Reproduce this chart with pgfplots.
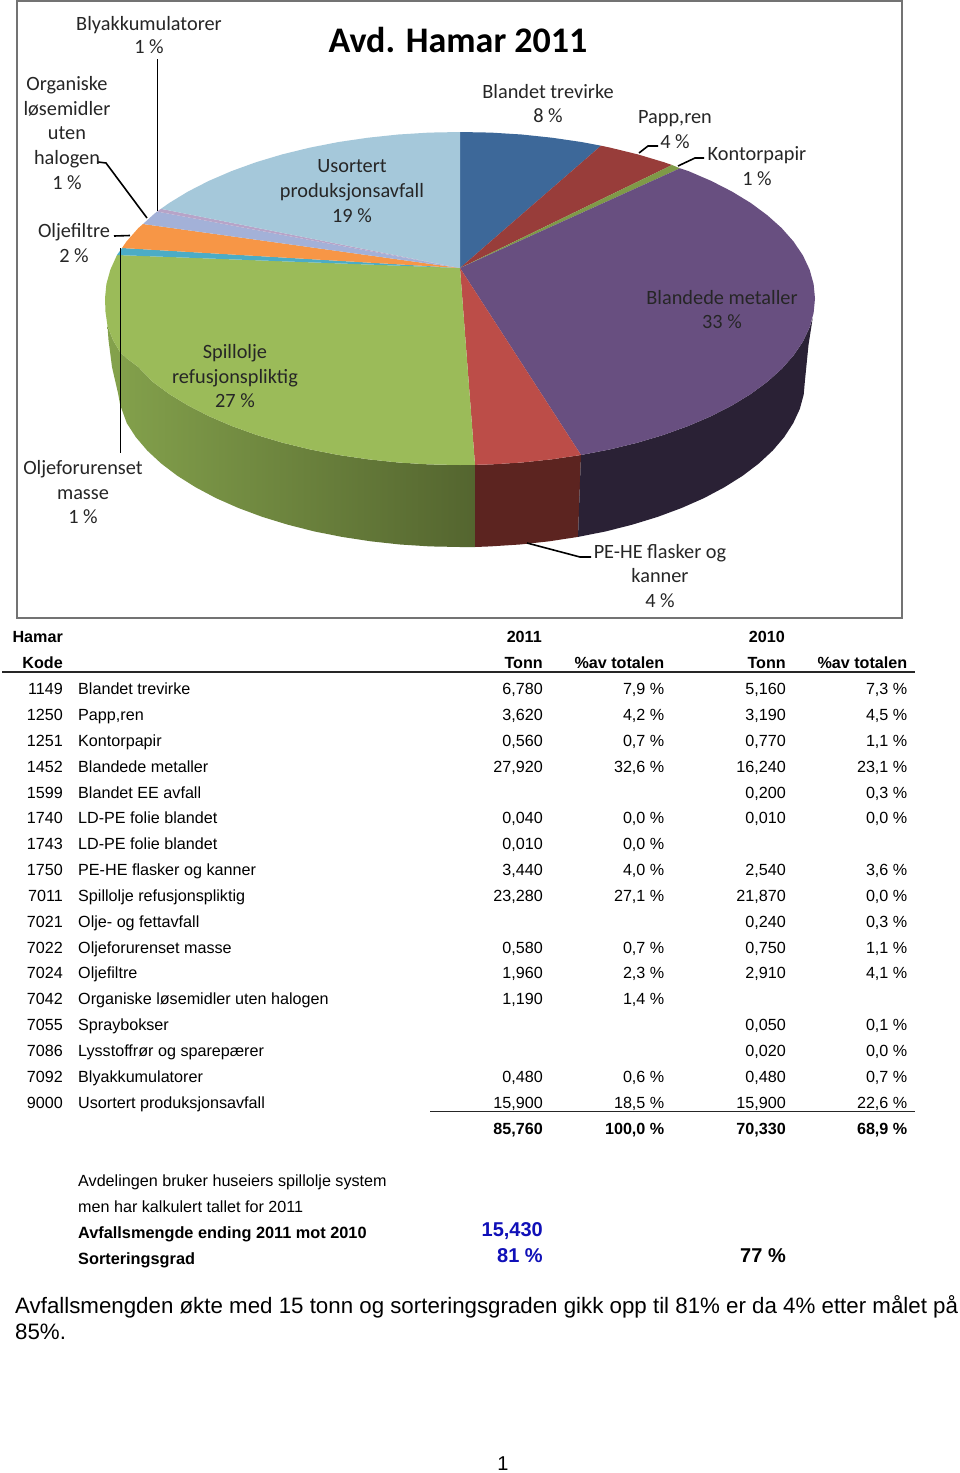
\documentclass[border=0pt]{standalone}
\usepackage{pgfplots}
\pgfplotsset{compat=1.18}
\usepackage{fontspec}
\setmainfont{Liberation Sans}
\newfontfamily\carlito{Carlito}
\definecolor{lab}{HTML}{262626}
\tikzset{
 L/.style={anchor=base,font=\carlito\fontsize{20.3}{20.5}\selectfont,text=lab,inner sep=0pt},
 TL/.style={anchor=base west,font=\fontsize{16.15}{16}\selectfont,inner sep=0pt},
 TR/.style={anchor=base east,font=\fontsize{16.15}{16}\selectfont,inner sep=0pt},
 BL/.style={anchor=base west,font=\bfseries\fontsize{16.3}{16}\selectfont,inner sep=0pt},
 BR/.style={anchor=base east,font=\bfseries\fontsize{16.15}{16}\selectfont,inner sep=0pt},
}
\newcommand\Row[7]{%
 \node[TR] at (axis cs:63,#1) {#2};
 \node[TL] at (axis cs:78,#1) {#3};
 \node[TR] at (axis cs:543,#1) {#4};
 \node[TR] at (axis cs:664.5,#1) {#5};
 \node[TR] at (axis cs:786,#1) {#6};
 \node[TR] at (axis cs:907.5,#1) {#7};
}
\begin{document}
\begin{tikzpicture}
\begin{axis}[
  scale only axis, width=960pt, height=1473pt,
  xmin=0, xmax=960, ymin=0, ymax=1473, y dir=reverse,
  hide axis, clip=false, enlargelimits=false,
]
\addplot[draw=none,fill=white] coordinates {(0,0)(960,0)(960,1473)(0,1473)} -- cycle;
% frame
\addplot[draw=gray!90!black,line width=2pt] coordinates {(16.5,1)(902,1)(902,618)(16.5,618)} -- cycle;
% walls
\addplot[draw=none,left color={rgb,255:red,132;green,162;blue,76},middle color={rgb,255:red,118;green,140;blue,69},right color={rgb,255:red,84;green,101;blue,47}] coordinates {
(475,464.8)(460,465)(429,464.4)(398.4,462.5)(368.1,459.3)(338.6,455)(310,449.4)(282.5,442.7)(256.4,434.9)(231.8,426)(209,416.2)(188.1,405.5)(169.2,394)(152.6,381.7)(138.3,367)(126.4,358)(120,352)(113,340)(107.5,326)
(108.5,340)(112,367)(118,393)(120.2,405)(126.8,423.2)(135.8,437.1)(147.3,450.6)(161.2,463.5)(177.4,475.8)(195.7,487.3)(216,498.1)(238.2,507.9)(262.1,516.8)(287.5,524.6)(314.2,531.4)(342,536.9)(370.7,541.3)(400.1,544.5)(429.9,546.4)(460,547)(475,547)} -- cycle;
\addplot[fill={rgb,255:red,92;green,36;blue,32},draw=none] coordinates {
(475,464.8)(491,464.4)(521.6,462.5)(551.9,459.3)(581,455)(578,536.9)(549.3,541.3)(519.9,544.5)(490.1,546.4)(475,547)} -- cycle;
\addplot[fill={rgb,255:red,42;green,33;blue,53},draw=none] coordinates {
(581,455)(610,449.4)(637.5,442.7)(663.6,434.9)(688.2,426)(711,416.2)(731.9,405.5)(750.8,394)(767.4,381.7)(781.7,368.9)(793.6,355.4)(802.9,341.6)(809.6,327.4)(812.7,318)
(808.5,345)(805,380)(803.7,394.6)(799.8,409)(793.2,423.2)(784.2,437.1)(772.7,450.6)(758.8,463.5)(742.6,475.8)(724.3,487.3)(704,498.1)(681.8,507.9)(657.9,516.8)(632.5,524.6)(605.8,531.4)(578,536.9)} -- cycle;
% top slices
\addplot[fill={rgb,255:red,61;green,104;blue,153},draw=none] coordinates {(460,268)(460,132)(491,132.6)(521.6,134.5)(551.9,137.7)(581.4,142)(601,145.7)} -- cycle;
\addplot[fill={rgb,255:red,152;green,61;blue,58},draw=none] coordinates {(460,268)(601,145.7)(610,147.6)(637.5,154.3)(663.6,162.1)(672,165)} -- cycle;
\addplot[fill={rgb,255:red,127;green,154;blue,72},draw=none] coordinates {(460,268)(672,165)(680,168.3)} -- cycle;
\addplot[fill={rgb,255:red,104;green,79;blue,128},draw=none] coordinates {(460,268)(680,168.3)(688.2,171)(711,180.8)(731.9,191.5)(750.8,203)(767.4,215.3)(781.7,228.1)(793.6,241.6)(802.9,255.4)(809.6,269.6)(813.6,284)(815,298.5)(813.6,313)(809.6,327.4)(802.9,341.6)(793.6,355.4)(781.7,368.9)(767.4,381.7)(750.8,394)(731.9,405.5)(711,416.2)(688.2,426)(663.6,434.9)(637.5,442.7)(610,449.4)(581,455)} -- cycle;
\addplot[fill={rgb,255:red,188;green,77;blue,72},draw=none] coordinates {(460,268)(581,455)(551.9,459.3)(521.6,462.5)(491,464.4)(475,464.8)} -- cycle;
\addplot[fill={rgb,255:red,155;green,187;blue,89},draw=none] coordinates {(460,268)(475,464.8)(460,465)(429,464.4)(398.4,462.5)(368.1,459.3)(338.6,455)(310,449.4)(282.5,442.7)(256.4,434.9)(231.8,426)(209,416.2)(188.1,405.5)(169.2,394)(152.6,381.7)(138.3,367)(126.4,358)(120,352)(113,340)(107.5,326)(105.5,312)(105,298.5)(106.4,284)(110.4,269.6)(117,255)} -- cycle;
\addplot[fill={rgb,255:red,75;green,172;blue,198},draw=none] coordinates {(460,268)(117,255)(122,248)} -- cycle;
\addplot[fill={rgb,255:red,247;green,150;blue,70},draw=none] coordinates {(460,268)(122,248)(126.4,241.6)(138.3,228.1)(143,224)} -- cycle;
\addplot[fill={rgb,255:red,163;green,177;blue,216},draw=none] coordinates {(460,268)(143,224)(152.6,215.3)(157,211.5)} -- cycle;
\addplot[fill={rgb,255:red,183;green,164;blue,200},draw=none] coordinates {(460,268)(157,211.5)(161,208.8)} -- cycle;
\addplot[fill={rgb,255:red,165;green,200;blue,218},draw=none] coordinates {(460,268)(161,208.8)(169.2,203)(188.1,191.5)(209,180.8)(231.8,171)(256.4,162.1)(282.5,154.3)(310,147.6)(338.6,142)(368.1,137.7)(398.4,134.5)(429,132.6)(460,132)} -- cycle;
% leaders
\addplot[black,line width=1.6pt] coordinates {(157.5,59)(157.5,211)};
\addplot[black,line width=1.6pt] coordinates {(98,162)(106,163)(147,218)};
\addplot[black,line width=1.6pt] coordinates {(114,236)(130,235.5)};
\addplot[black,line width=1.6pt] coordinates {(120.5,248)(120.5,453)};
\addplot[black,line width=1.6pt] coordinates {(639,153)(648,146)(658,146)};
\addplot[black,line width=1.6pt] coordinates {(678,166)(695,158)(704,158)};
\addplot[black,line width=1.6pt] coordinates {(527,543)(580,557)(591,557)};
% title and labels
\node[anchor=base,font=\carlito\bfseries\fontsize{36}{36}\selectfont,inner sep=0pt] at (axis cs:458,52) {Avd. Hamar 2011};
\node[L] at (axis cs:149,30) {Blyakkumulatorer};
\node[L] at (axis cs:149,53) {1 \%};
\node[L] at (axis cs:67,90) {Organiske};
\node[L] at (axis cs:67,115) {løsemidler};
\node[L] at (axis cs:67,139.5) {uten};
\node[L] at (axis cs:67,164) {halogen};
\node[L] at (axis cs:67,189) {1 \%};
\node[L] at (axis cs:74,237) {Oljefiltre};
\node[L] at (axis cs:74,262) {2 \%};
\node[L] at (axis cs:352,172) {Usortert};
\node[L] at (axis cs:352,197) {produksjonsavfall};
\node[L] at (axis cs:352,222) {19 \%};
\node[L] at (axis cs:548,98) {Blandet trevirke};
\node[L] at (axis cs:548,122) {8 \%};
\node[L] at (axis cs:675,123) {Papp,ren};
\node[L] at (axis cs:675,148) {4 \%};
\node[L] at (axis cs:757,160) {Kontorpapir};
\node[L] at (axis cs:757,185) {1 \%};
\node[L] at (axis cs:722,304) {Blandede metaller};
\node[L] at (axis cs:722,328) {33 \%};
\node[L] at (axis cs:235,358) {Spillolje};
\node[L] at (axis cs:235,383) {refusjonspliktig};
\node[L] at (axis cs:235,407) {27 \%};
\node[L] at (axis cs:83,474) {Oljeforurenset};
\node[L] at (axis cs:83,499) {masse};
\node[L] at (axis cs:83,523) {1 \%};
\node[L] at (axis cs:660,558) {PE-HE flasker og};
\node[L] at (axis cs:660,582) {kanner};
\node[L] at (axis cs:660,607) {4 \%};
% table head
\node[BR] at (axis cs:63,642) {Hamar};
\node[BR] at (axis cs:542,642) {2011};
\node[BR] at (axis cs:785,642) {2010};
\node[BR] at (axis cs:63,668) {Kode};
\node[BR] at (axis cs:543,668) {Tonn};
\node[BR] at (axis cs:664.5,668) {\%av totalen};
\node[BR] at (axis cs:786,668) {Tonn};
\node[BR] at (axis cs:907.5,668) {\%av totalen};
\addplot[black!85,line width=1.6pt] coordinates {(2,671.7)(915,671.7)};
\Row{694}{1149}{Blandet trevirke}{6,780}{7,9 \%}{5,160}{7,3 \%}
\Row{720}{1250}{Papp,ren}{3,620}{4,2 \%}{3,190}{4,5 \%}
\Row{746}{1251}{Kontorpapir}{0,560}{0,7 \%}{0,770}{1,1 \%}
\Row{772}{1452}{Blandede metaller}{27,920}{32,6 \%}{16,240}{23,1 \%}
\Row{798}{1599}{Blandet EE avfall}{}{}{0,200}{0,3 \%}
\Row{823.5}{1740}{LD-PE folie blandet}{0,040}{0,0 \%}{0,010}{0,0 \%}
\Row{849.5}{1743}{LD-PE folie blandet}{0,010}{0,0 \%}{}{}
\Row{875.5}{1750}{PE-HE flasker og kanner}{3,440}{4,0 \%}{2,540}{3,6 \%}
\Row{901}{7011}{Spillolje refusjonspliktig}{23,280}{27,1 \%}{21,870}{0,0 \%}
\Row{927}{7021}{Olje- og fettavfall}{}{}{0,240}{0,3 \%}
\Row{953}{7022}{Oljeforurenset masse}{0,580}{0,7 \%}{0,750}{1,1 \%}
\Row{978.5}{7024}{Oljefiltre}{1,960}{2,3 \%}{2,910}{4,1 \%}
\Row{1004.5}{7042}{Organiske løsemidler uten halogen}{1,190}{1,4 \%}{}{}
\Row{1030.5}{7055}{Spraybokser}{}{}{0,050}{0,1 \%}
\Row{1056}{7086}{Lysstoffrør og sparepærer}{}{}{0,020}{0,0 \%}
\Row{1082}{7092}{Blyakkumulatorer}{0,480}{0,6 \%}{0,480}{0,7 \%}
\Row{1108}{9000}{Usortert produksjonsavfall}{15,900}{18,5 \%}{15,900}{22,6 \%}
\addplot[black!85,line width=1.6pt] coordinates {(430,1111.5)(915,1111.5)};
\node[BR] at (axis cs:543,1134) {85,760};
\node[BR] at (axis cs:664.5,1134) {100,0 \%};
\node[BR] at (axis cs:786,1134) {70,330};
\node[BR] at (axis cs:907.5,1134) {68,9 \%};
% notes
\node[TL] at (axis cs:78,1186) {Avdelingen bruker huseiers spillolje system};
\node[TL] at (axis cs:78,1212) {men har kalkulert tallet for 2011};
\node[BL] at (axis cs:78,1238) {Avfallsmengde ending 2011 mot 2010};
\node[BL] at (axis cs:78,1264) {Sorteringsgrad};
\node[BR,font=\bfseries\fontsize{20}{20}\selectfont,text={rgb,255:red,16;green,16;blue,184}] at (axis cs:543,1236.5) {15,430};
\node[BR,font=\bfseries\fontsize{20}{20}\selectfont,text={rgb,255:red,16;green,16;blue,184}] at (axis cs:543,1262.5) {81 \%};
\node[BR,font=\bfseries\fontsize{20}{20}\selectfont] at (axis cs:786,1262.5) {77 \%};
\node[anchor=base west,inner sep=0pt,font=\fontsize{22.3}{22.5}\selectfont] at (axis cs:15,1313) {Avfallsmengden økte med 15 tonn og sorteringsgraden gikk opp til 81\% er da 4\% etter målet på};
\node[anchor=base west,inner sep=0pt,font=\fontsize{22.3}{22.5}\selectfont] at (axis cs:15,1339) {85\%.};
\node[anchor=base,inner sep=0pt,font=\fontsize{20}{20}\selectfont] at (axis cs:503,1470) {1};
\end{axis}
\end{tikzpicture}
\end{document}
